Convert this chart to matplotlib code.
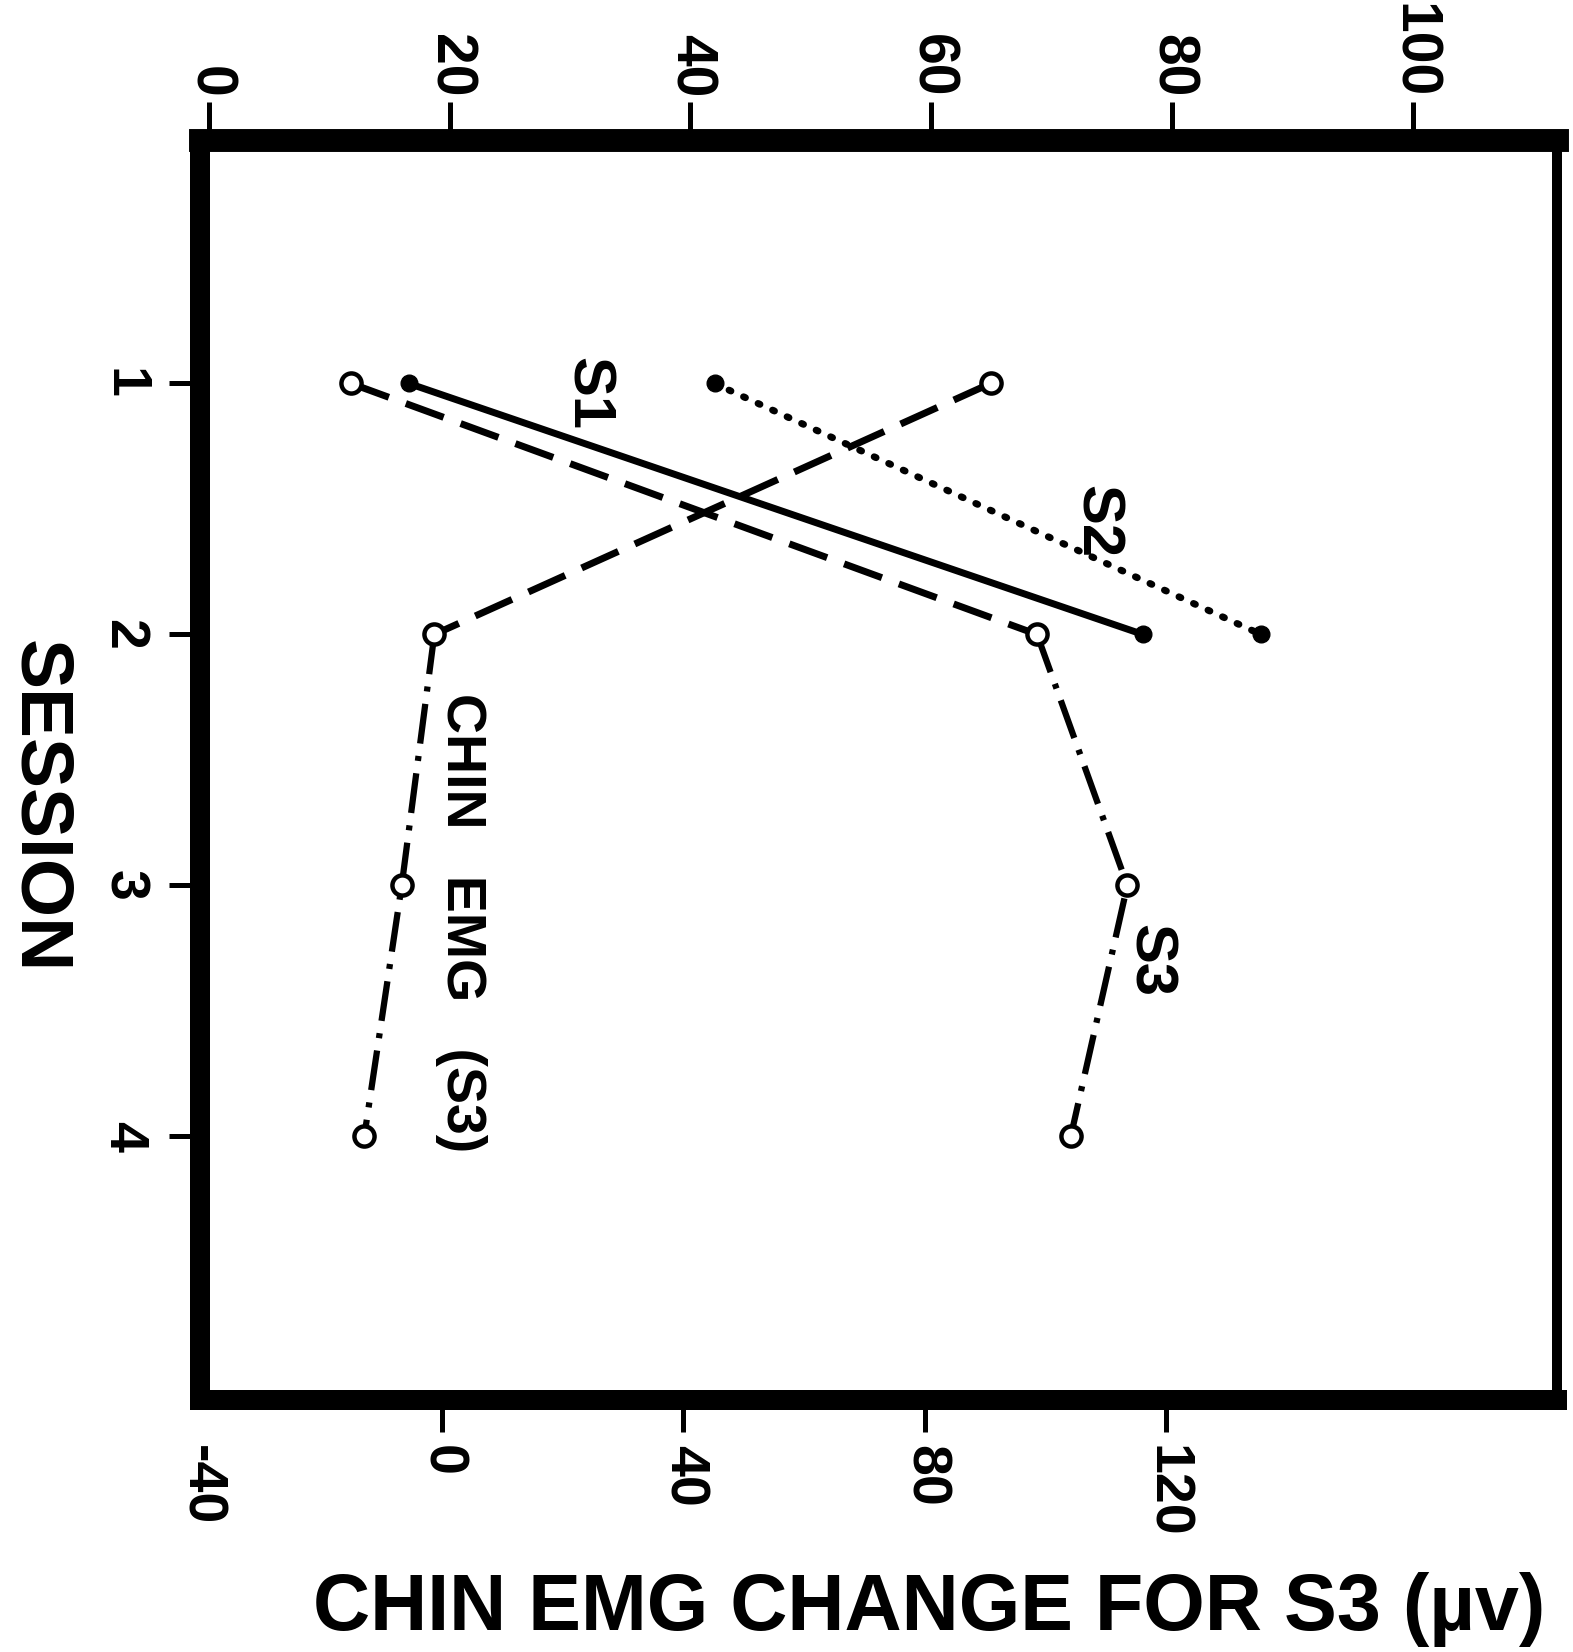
import matplotlib
matplotlib.use('Agg')
import matplotlib.pyplot as plt

# ---- data ----
session_ticks = [1, 2, 3, 4]
top_ticks = [0, 20, 40, 60, 80, 100]
bottom_ticks = [-40, 0, 40, 80, 120]

s1_sessions = [1, 2]
s1_values = [16.6, 77.6]
s2_sessions = [1, 2]
s2_values = [42.0, 87.4]
s3_sessions = [1, 2, 3, 4]
s3_values = [11.8, 68.8, 76.3, 71.6]
chin_sessions = [1, 2, 3, 4]
chin_values = [90.9, -1.2, -6.6, -12.8]

plt.rcParams['font.family'] = ['Liberation Sans', 'DejaVu Sans']
plt.rcParams['font.weight'] = 'bold'

W, H = 1573, 1652
fig = plt.figure(figsize=(W / 100, H / 100), dpi=100)
ax = fig.add_axes([200 / W, 1 - 1400 / H, 1357 / W, 1260 / H])
ax2 = ax.twiny()

ax.set_xlim(-40, 184.7)
ax2.set_xlim(-0.75, 112.0)
ax.set_ylim(5.05, 0.03)

DASH = (0, (5.8, 2.6))
DASHDOT = (0, (6.4, 2.0, 0.8, 2.0))
DOT = (0, (0.3, 2.0))
LW = 5.0
LW_DD = 4.5

# S1 solid
ax2.plot(s1_values, s1_sessions, color='black', lw=LW, solid_capstyle='round', zorder=3)
ax2.plot(s1_values, s1_sessions, 'o', color='black', ms=12, ls='none', zorder=5)
# S2 dotted
ax2.plot(s2_values, s2_sessions, color='black', lw=LW, ls=DOT, dash_capstyle='round', zorder=3)
ax2.plot(s2_values, s2_sessions, 'o', color='black', ms=12, ls='none', zorder=5)
# S3 dashed then dash-dot
ax2.plot(s3_values[:2], s3_sessions[:2], color='black', lw=LW, ls=DASH, zorder=3)
ax2.plot(s3_values[1:], s3_sessions[1:], color='black', lw=LW_DD, ls=DASHDOT, zorder=3)
ax2.plot(s3_values, s3_sessions, 'o', ms=14.5, mfc='white', mec='black', mew=3.2,
         ls='none', zorder=5)
# Chin EMG (S3) on bottom scale
ax.plot(chin_values[:2], chin_sessions[:2], color='black', lw=LW, ls=DASH, zorder=3)
ax.plot(chin_values[1:], chin_sessions[1:], color='black', lw=LW_DD, ls=DASHDOT, zorder=3)
ax.plot(chin_values, chin_sessions, 'o', ms=14.5, mfc='white', mec='black', mew=3.2,
        ls='none', zorder=5)

# series labels
ax2.text(31.4, 1.04, 'S1', rotation=-90, ha='center', va='center', fontsize=43, fontweight='bold')
ax2.text(73.7, 1.55, 'S2', rotation=-90, ha='center', va='center', fontsize=43, fontweight='bold')
ax2.text(78.1, 3.30, 'S3', rotation=-90, ha='center', va='center', fontsize=43, fontweight='bold')
ax2.text(20.9, 3.15, 'CHIN   EMG   (S3)', rotation=-90, ha='center', va='center',
         fontsize=40, fontweight='bold')

# ticks
ax2.set_xticks(top_ticks)
ax2.set_xticklabels([str(t) for t in top_ticks], rotation=-90)
ax2.tick_params(axis='x', direction='out', length=27.4, width=3.6, pad=3, labelsize=41)

ax.set_xticks(bottom_ticks)
ax.set_xticklabels([str(t) for t in bottom_ticks], rotation=-90)
ax.tick_params(axis='x', direction='out', length=23, width=3.6, pad=9.4, labelsize=40)
ax.xaxis.get_major_ticks()[0].tick1line.set_visible(False)

ax.set_yticks(session_ticks)
ax.set_yticklabels([str(s) for s in session_ticks], rotation=-90)
ax.tick_params(axis='y', direction='out', length=22.3, width=3.6, pad=14, labelsize=40)
for lab in ax.get_yticklabels():
    lab.set_va('center')

# frame
for sp in ax2.spines.values():
    sp.set_visible(False)
ax.spines['top'].set_linewidth(16.5)
ax.spines['left'].set_linewidth(14.4)
ax.spines['bottom'].set_linewidth(14.4)
ax.spines['right'].set_linewidth(7.2)

# axis titles
fig.text(39 / W, 1 - 807 / H, 'SESSION', rotation=-90, ha='center', va='center',
         fontsize=54, fontweight='bold')
fig.text(313 / W, 1 - 1630 / H, 'CHIN EMG CHANGE FOR S3 (\u00b5v)', ha='left', va='baseline',
         fontsize=57, fontweight='bold')

fig.savefig('out.png', dpi=100)
